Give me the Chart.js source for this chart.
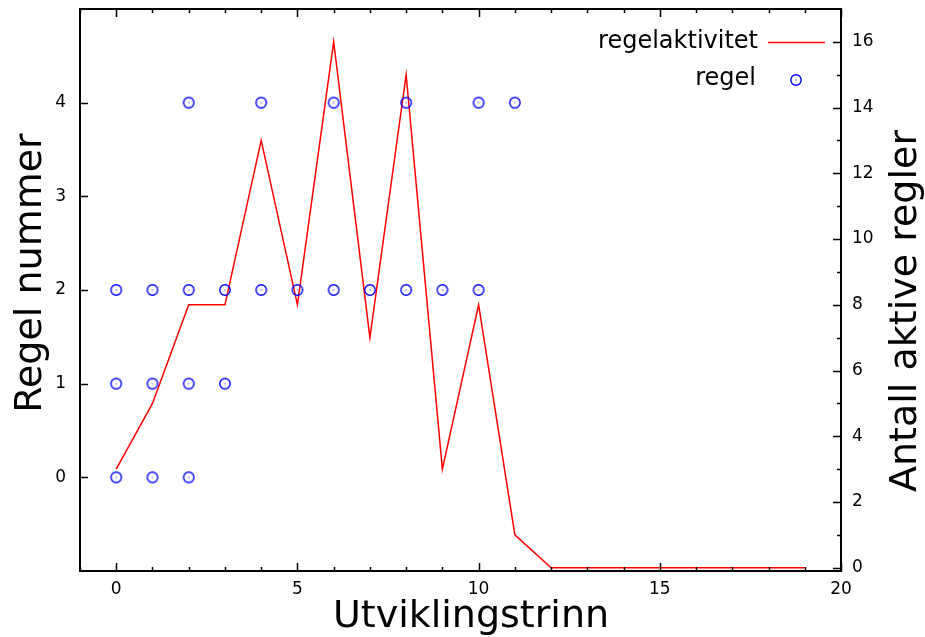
<!DOCTYPE html>
<html>
<head>
<meta charset="utf-8">
<script src="https://cdn.jsdelivr.net/npm/chart.js@4/dist/chart.umd.min.js"></script>
<style>
  html, body { margin: 0; padding: 0; background: #fff; }
  #wrap { width: 925px; height: 637px; }
</style>
</head>
<body>
<div id="wrap"><canvas id="graph" width="925" height="637"></canvas></div>
<script>
// utviklingstrinn 0..19
const steps = [0, 1, 2, 3, 4, 5, 6, 7, 8, 9, 10, 11, 12, 13, 14, 15, 16, 17, 18, 19]
// antall aktive regler per trinn (hoyre akse)
const regelaktivitet = [3, 5, 8, 8, 13, 8, 16, 7, 15, 3, 8, 1, 0, 0, 0, 0, 0, 0, 0, 0]
// aktive regler: trinn og regelnummer (venstre akse)
const regelTrinn  = [0, 0, 0, 1, 1, 1, 2, 2, 2, 2, 3, 3, 4, 4, 5, 6, 6, 7, 8, 8, 9, 10, 10, 11]
const regelNummer = [0, 1, 2, 0, 1, 2, 0, 1, 2, 4, 1, 2, 2, 4, 2, 2, 4, 2, 2, 4, 2, 2, 4, 4]

const xTicks = [0, 5, 10, 15, 20]
const yTicks = [0, 1, 2, 3, 4]
const y2Ticks = [0, 2, 4, 6, 8, 10, 12, 14, 16]

const FONT = "'DejaVu Sans', sans-serif"

function makeMarker(){
    const c = document.createElement('canvas')
    c.width = 14
    c.height = 14
    const g = c.getContext('2d')
    g.strokeStyle = '#0000ff'
    g.lineWidth = 1.4
    g.beginPath()
    g.arc(7, 7, 5.2, 0, Math.PI * 2)
    g.stroke()
    g.fillStyle = '#0000ff'
    g.fillRect(6.5, 6.5, 1, 1)
    return c
}
const marker = makeMarker()

function getLineData(){
    return steps.map((s, i) => ({ x: s, y: regelaktivitet[i] }))
}

function getPointData(){
    return regelTrinn.map((s, i) => ({ x: s, y: regelNummer[i] }))
}

function noPadding(s){
    s.paddingTop = 0
    s.paddingBottom = 0
    s.paddingLeft = 0
    s.paddingRight = 0
}

// gnuplot-aktig ramme, ticks innover, titler og legend
const framePlugin = {
    id: 'frame',
    afterDraw(chart){
        const ctx = chart.ctx
        const a = chart.chartArea
        const sx = chart.scales.x, sy = chart.scales.y, sy2 = chart.scales.y2
        ctx.save()
        ctx.strokeStyle = '#000'
        ctx.lineWidth = 1.5
        ctx.beginPath()
        // x ticks, bunn og topp
        for(let v = Math.ceil(sx.min); v <= sx.max; v++){
            const px = Math.round(sx.getPixelForValue(v)) + 0.5
            const len = v % 5 === 0 ? 8 : 4
            ctx.moveTo(px, a.bottom); ctx.lineTo(px, a.bottom - len)
            ctx.moveTo(px, a.top); ctx.lineTo(px, a.top + len)
        }
        // venstre ticks
        for(let v of yTicks){
            const py = Math.round(sy.getPixelForValue(v)) + 0.5
            ctx.moveTo(a.left, py); ctx.lineTo(a.left + 8, py)
        }
        // hoyre ticks
        for(let v = Math.ceil(sy2.min); v <= 16; v++){
            const py = Math.round(sy2.getPixelForValue(v)) + 0.5
            const len = v % 2 === 0 ? 8 : 4
            ctx.moveTo(a.right, py); ctx.lineTo(a.right - len, py)
        }
        ctx.stroke()
        ctx.lineWidth = 2
        ctx.strokeRect(a.left, a.top, a.right - a.left, a.bottom - a.top)

        // aksetitler
        ctx.fillStyle = '#000'
        ctx.font = '38px ' + FONT
        ctx.textAlign = 'center'
        ctx.textBaseline = 'alphabetic'
        ctx.fillText('Utviklingstrinn', 471, 627)
        ctx.save()
        ctx.translate(41, 273)
        ctx.rotate(-Math.PI / 2)
        ctx.fillText('Regel nummer', 0, 0)
        ctx.restore()
        ctx.save()
        ctx.translate(916, 311)
        ctx.rotate(-Math.PI / 2)
        ctx.fillText('Antall aktive regler', 0, 0)
        ctx.restore()

        // legend
        ctx.font = '24px ' + FONT
        ctx.textAlign = 'right'
        ctx.textBaseline = 'middle'
        ctx.fillText('regelaktivitet', 758, 42)
        ctx.fillText('regel', 756, 79)
        ctx.strokeStyle = '#ff0000'
        ctx.lineWidth = 1.5
        ctx.beginPath()
        ctx.moveTo(768, 42.5); ctx.lineTo(825, 42.5)
        ctx.stroke()
        ctx.drawImage(marker, 796 - 7, 80 - 7)
        ctx.restore()
    }
}

function setGraph(){
    const ctx = document.getElementById('graph').getContext('2d')
    const tickFont = { family: FONT, size: 17 }
    const structGraph = {
        type: 'scatter',
        data: {
            datasets: [
                {
                    label: 'regelaktivitet',
                    data: getLineData(),
                    yAxisID: 'y2',
                    showLine: true,
                    borderColor: '#ff0000',
                    borderWidth: 1.5,
                    pointRadius: 0,
                    tension: 0,
                    order: 2
                },
                {
                    label: 'regel',
                    data: getPointData(),
                    yAxisID: 'y',
                    pointStyle: marker,
                    pointRadius: 6,
                    order: 1
                }
            ]
        },
        options: {
            responsive: false,
            animation: false,
            layout: { padding: { top: 9, left: 0, right: 0, bottom: 0 } },
            plugins: {
                legend: { display: false },
                tooltip: { enabled: false }
            },
            scales: {
                x: {
                    type: 'linear',
                    position: 'bottom',
                    min: -1,
                    max: 20,
                    afterBuildTicks: s => { s.ticks = xTicks.map(v => ({ value: v })) },
                    afterFit: s => { s.height = 66; noPadding(s) },
                    grid: { display: false, drawTicks: false },
                    border: { display: false },
                    ticks: { font: tickFont, color: '#000', padding: 8, maxRotation: 0 }
                },
                y: {
                    type: 'linear',
                    position: 'left',
                    min: -1,
                    max: 5,
                    afterBuildTicks: s => { s.ticks = yTicks.map(v => ({ value: v })) },
                    afterFit: s => { s.width = 80; noPadding(s) },
                    grid: { display: false, drawTicks: false },
                    border: { display: false },
                    ticks: { font: tickFont, color: '#000', padding: 14 }
                },
                y2: {
                    type: 'linear',
                    position: 'right',
                    min: -0.1,
                    max: 17,
                    afterBuildTicks: s => { s.ticks = y2Ticks.map(v => ({ value: v })) },
                    afterFit: s => { s.width = 84; noPadding(s) },
                    grid: { display: false, drawTicks: false },
                    border: { display: false },
                    ticks: { font: tickFont, color: '#000', padding: 11 }
                }
            }
        },
        plugins: [framePlugin]
    }
    const myChart = new Chart(ctx, structGraph)
}

setGraph()
</script>
</body>
</html>
